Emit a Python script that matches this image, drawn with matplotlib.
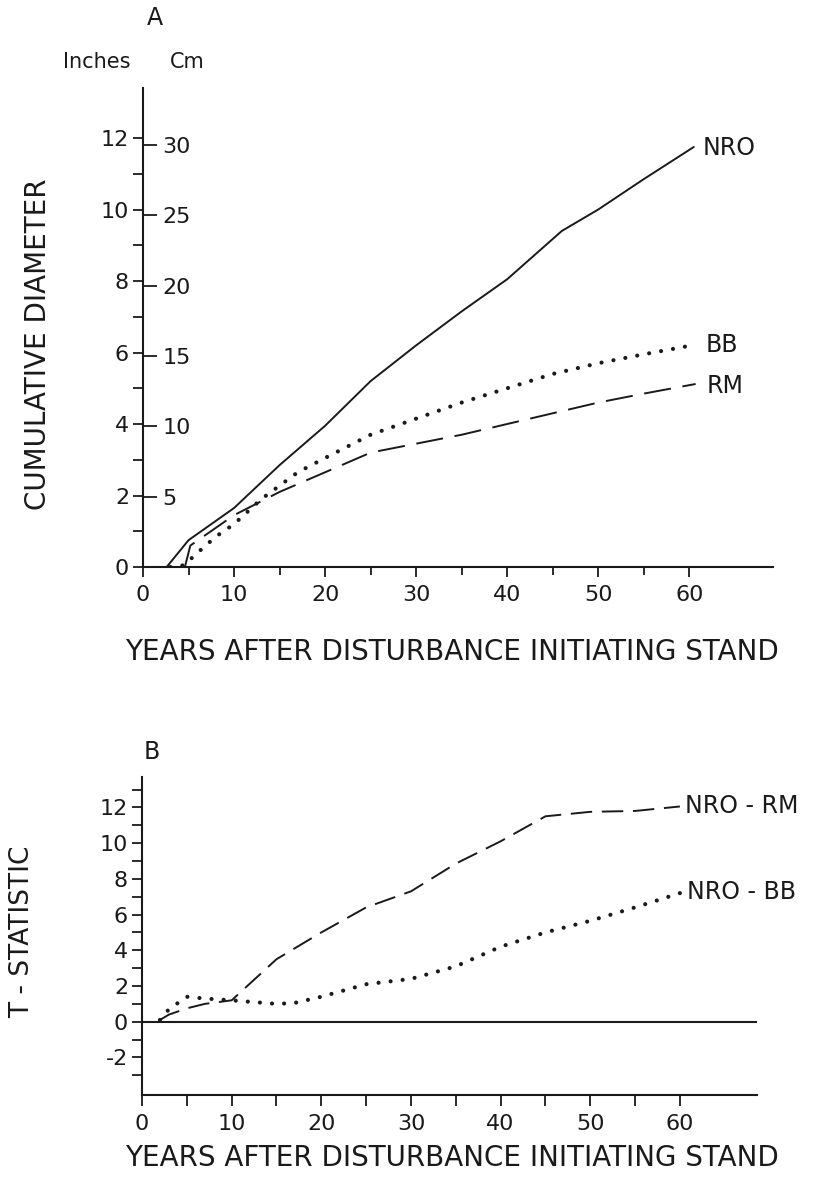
import matplotlib
matplotlib.use("Agg")
import matplotlib.pyplot as plt
import numpy as np

# ---------------- data ----------------
# Panel A: cumulative diameter (inches) vs years after disturbance
nro_x = [2.6, 5, 10, 15, 20, 25, 30, 35, 40, 46, 50, 55, 60.5]
nro_y = [0.0, 0.75, 1.65, 2.85, 3.95, 5.2, 6.2, 7.15, 8.05, 9.4, 10.0, 10.85, 11.75]

bb_x = [3, 4.5, 6, 8, 10, 13, 17, 20, 25, 30, 35, 40, 45, 50, 55, 60.3]
bb_y = [0.0, 0.05, 0.4, 0.85, 1.2, 1.9, 2.65, 3.05, 3.7, 4.15, 4.6, 5.0, 5.4, 5.7, 5.95, 6.2]

rm_x = [4.6, 5.2, 10, 15, 20, 25, 30, 35, 40, 45, 50, 55, 60.7]
rm_y = [0.0, 0.6, 1.45, 2.1, 2.65, 3.2, 3.45, 3.7, 4.0, 4.3, 4.6, 4.85, 5.12]

# Panel B: t-statistic
nrorm_x = [2, 3, 5, 7, 10, 15, 20, 25, 30, 35, 40, 45, 50, 55, 60]
nrorm_y = [0.1, 0.4, 0.75, 1.0, 1.2, 3.5, 5.0, 6.4, 7.3, 8.85, 10.1, 11.5, 11.75, 11.8, 12.05]

nrobb_x = [2, 3, 5, 7, 10, 15, 17, 20, 25, 30, 35, 40, 45, 50, 55, 60]
nrobb_y = [0.1, 0.7, 1.4, 1.3, 1.2, 1.0, 1.05, 1.4, 2.1, 2.4, 3.1, 4.2, 5.0, 5.65, 6.4, 7.2]

xticks_labels = [0, 10, 20, 30, 40, 50, 60]
a_inch_labels = [0, 2, 4, 6, 8, 10, 12]
a_cm_labels = [5, 10, 15, 20, 25, 30]
b_labels = [-2, 0, 2, 4, 6, 8, 10, 12]

# ---------------- figure ----------------
W, H = 814, 1187
fig = plt.figure(figsize=(W / 100, H / 100), dpi=100)
plt.rcParams['font.family'] = ['DejaVu Sans']

def fx(px):
    return px / W

def fy(py):
    return 1 - py / H

TICK_FS = 16
LAB_FS = 20
col = '#1a1a1a'

# ---- Panel A ----
axA = fig.add_axes([fx(143), fy(567), fx(773) - fx(143), fy(88) - fy(567)])
axA.set_xlim(0, 69.2)
axA.set_ylim(0, 13.4)
for s in ['top', 'right']:
    axA.spines[s].set_visible(False)
for s in ['left', 'bottom']:
    axA.spines[s].set_linewidth(1.5)
    axA.spines[s].set_color(col)

axA.plot(nro_x, nro_y, color=col, lw=1.4, solid_capstyle='round')
axA.plot(bb_x, bb_y, color=col, lw=3.0, linestyle=(0, (0.01, 2.9)),
         dash_capstyle='round')
axA.plot(rm_x, rm_y, color=col, lw=1.4, linestyle=(0, (14, 6)))

axA.set_xticks(xticks_labels)
axA.set_xticklabels([str(v) for v in xticks_labels])
axA.set_xticks(np.arange(5, 61, 10), minor=True)
axA.tick_params(axis='x', which='major', direction='out', length=7, width=1.3,
                labelsize=TICK_FS, pad=6, colors=col)
axA.tick_params(axis='x', which='minor', direction='out', length=6, width=1.3, colors=col)

axA.set_yticks(a_inch_labels)
axA.set_yticklabels([str(v) for v in a_inch_labels])
axA.set_yticks(np.arange(1, 12, 2), minor=True)
axA.tick_params(axis='y', which='major', direction='out', length=7, width=1.3,
                labelsize=TICK_FS, pad=3, colors=col)
axA.tick_params(axis='y', which='minor', direction='out', length=7, width=1.3, colors=col)

# cm scale on the same spine, ticks pointing right
axC = axA.twinx()
axC.set_ylim(0, 13.4 * 2.54)
axC.set_xlim(axA.get_xlim())
for s in ['top', 'left', 'bottom']:
    axC.spines[s].set_visible(False)
axC.spines['right'].set_position(('axes', 0))
axC.spines['right'].set_visible(False)
axC.set_yticks(a_cm_labels)
axC.set_yticklabels([str(v) for v in a_cm_labels])
axC.tick_params(axis='y', direction='out', length=10, width=1.3,
                labelsize=TICK_FS, pad=4, colors=col)

axA.text(61.5, 11.73, 'NRO', fontsize=17, va='center', ha='left', color=col)
axA.text(61.8, 6.2, 'BB', fontsize=17, va='center', ha='left', color=col)
axA.text(61.9, 5.06, 'RM', fontsize=17, va='center', ha='left', color=col)

fig.text(fx(155), fy(18), 'A', fontsize=17, ha='center', va='center', color=col)
fig.text(fx(97), fy(62), 'Inches', fontsize=15, ha='center', va='center', color=col)
fig.text(fx(187), fy(62), 'Cm', fontsize=15, ha='center', va='center', color=col)
fig.text(fx(38), fy(344), 'CUMULATIVE DIAMETER', fontsize=LAB_FS, rotation=90,
         ha='center', va='center', color=col)
fig.text(fx(452), fy(652), 'YEARS AFTER DISTURBANCE INITIATING STAND', fontsize=LAB_FS,
         ha='center', va='center', color=col)

# ---- Panel B ----
axB = fig.add_axes([fx(142), fy(1095), fx(757) - fx(142), fy(777) - fy(1095)])
axB.set_xlim(0, 68.6)
axB.set_ylim(-4.1, 13.7)
for s in ['top', 'right']:
    axB.spines[s].set_visible(False)
for s in ['left', 'bottom']:
    axB.spines[s].set_linewidth(1.5)
    axB.spines[s].set_color(col)
axB.axhline(0, color=col, lw=1.5)

axB.plot(nrorm_x, nrorm_y, color=col, lw=1.4, linestyle=(0, (11, 5)))
axB.plot(nrobb_x, nrobb_y, color=col, lw=3.0, linestyle=(0, (0.01, 2.9)),
         dash_capstyle='round')

axB.set_xticks(xticks_labels)
axB.set_xticklabels([str(v) for v in xticks_labels])
axB.set_xticks(np.arange(5, 61, 10), minor=True)
axB.tick_params(axis='x', which='major', direction='out', length=8, width=1.3,
                labelsize=TICK_FS, pad=6, colors=col)
axB.tick_params(axis='x', which='minor', direction='out', length=8, width=1.3, colors=col)

axB.set_yticks(b_labels)
axB.set_yticklabels([str(v) for v in b_labels])
axB.set_yticks(np.arange(-3, 13.1, 2), minor=True)
axB.tick_params(axis='y', which='major', direction='out', length=7, width=1.3,
                labelsize=TICK_FS, pad=3, colors=col)
axB.tick_params(axis='y', which='minor', direction='out', length=7, width=1.3, colors=col)

axB.text(60.6, 12.07, 'NRO - RM', fontsize=17, va='center', ha='left', color=col)
axB.text(60.8, 7.26, 'NRO - BB', fontsize=17, va='center', ha='left', color=col)

fig.text(fx(152), fy(752), 'B', fontsize=17, ha='center', va='center', color=col)
fig.text(fx(22), fy(932), 'T - STATISTIC', fontsize=19, rotation=90,
         ha='center', va='center', color=col)
fig.text(fx(452), fy(1158), 'YEARS AFTER DISTURBANCE INITIATING STAND', fontsize=LAB_FS,
         ha='center', va='center', color=col)

fig.savefig('out.png', dpi=100)
